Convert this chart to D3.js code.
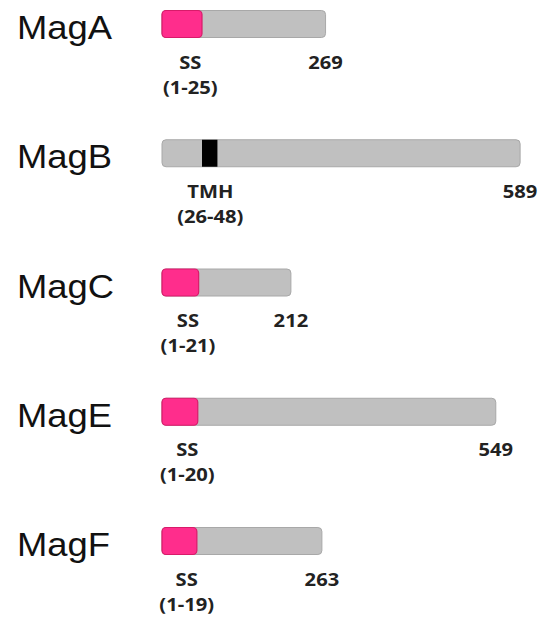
<!DOCTYPE html>
<html>
<head>
<meta charset="utf-8">
<script src="https://cdn.jsdelivr.net/npm/d3@7"></script>
<style>
  html, body { margin: 0; padding: 0; background: #ffffff; }
  svg { display: block; }
</style>
</head>
<body>
<div id="chart"></div>
<script>
// ---- data ----
const proteins = ["MagA", "MagB", "MagC", "MagE", "MagF"];
const lengths = [269, 589, 212, 549, 263];
const featureTypes = ["SS", "TMH", "SS", "SS", "SS"];
const featureStart = [1, 26, 1, 1, 1];
const featureEnd = [25, 48, 21, 20, 19];

// ---- layout ----
const W = 548, H = 623;
const svg = d3.select("#chart").append("svg")
  .attr("width", W).attr("height", H);
svg.append("rect").attr("width", W).attr("height", H).attr("fill", "#ffffff");

const barStart = 162;
const pxPerResidue = 0.608;
const x = d3.scaleLinear().domain([0, 589]).range([barStart, barStart + 589 * pxPerResidue]);
// schematic (non-proportional) scale used for the domain boxes
const fx = d3.scaleSqrt().domain([0, 25]).range([0, 40]);
const y = d3.scalePoint().domain(proteins).range([24, 541]);

const barH = 27;
const nameStretch = 1.07;
const labStretch = 1.12;

const rows = proteins.map((p, i) => ({
  name: p, len: lengths[i], type: featureTypes[i],
  s: featureStart[i], e: featureEnd[i]
}));

const g = svg.selectAll("g.row").data(rows).enter().append("g").attr("class", "row");

// protein names
g.append("text")
  .attr("transform", d => `translate(17,${y(d.name) + 15}) scale(${nameStretch},1)`)
  .attr("font-family", "'Liberation Sans', Arial, sans-serif")
  .attr("font-size", 34)
  .attr("fill", "#111")
  .text(d => d.name);

// full-length bar
g.append("rect")
  .attr("x", x(0))
  .attr("y", d => y(d.name) - barH / 2)
  .attr("width", d => x(d.len) - x(0))
  .attr("height", barH)
  .attr("rx", 4)
  .attr("fill", "#c0c0c0")
  .attr("stroke", "#a8a8a8")
  .attr("stroke-width", 1);

// feature boxes
g.append("rect")
  .attr("x", d => x(0) + fx(d.s - 1))
  .attr("y", d => y(d.name) - barH / 2)
  .attr("width", d => fx(d.e) - fx(d.s - 1))
  .attr("height", barH)
  .attr("rx", d => d.type === "SS" ? 4 : 0)
  .attr("fill", d => d.type === "SS" ? "#ff2d8c" : "#000000")
  .attr("stroke", d => d.type === "SS" ? "#d81b6a" : "none")
  .attr("stroke-width", 1.2);

const labFont = "'Open Sans', 'DejaVu Sans', sans-serif";
const labSize = 18;

function label(sel, xf, dy, txt) {
  sel.append("text")
    .attr("transform", d => `translate(${xf(d)},${y(d.name) + barH / 2 + dy}) scale(${labStretch},1)`)
    .attr("text-anchor", "middle")
    .attr("font-family", labFont)
    .attr("font-weight", 700)
    .attr("font-size", labSize)
    .attr("fill", "#222")
    .text(txt);
}

const featX = d => x(0) + fx((d.s - 1 + d.e) / 2);
label(g, featX, 31, d => d.type);
label(g, featX, 56, d => `(${d.s}-${d.e})`);
label(g, d => x(d.len), 31, d => d.len);
</script>
</body>
</html>
